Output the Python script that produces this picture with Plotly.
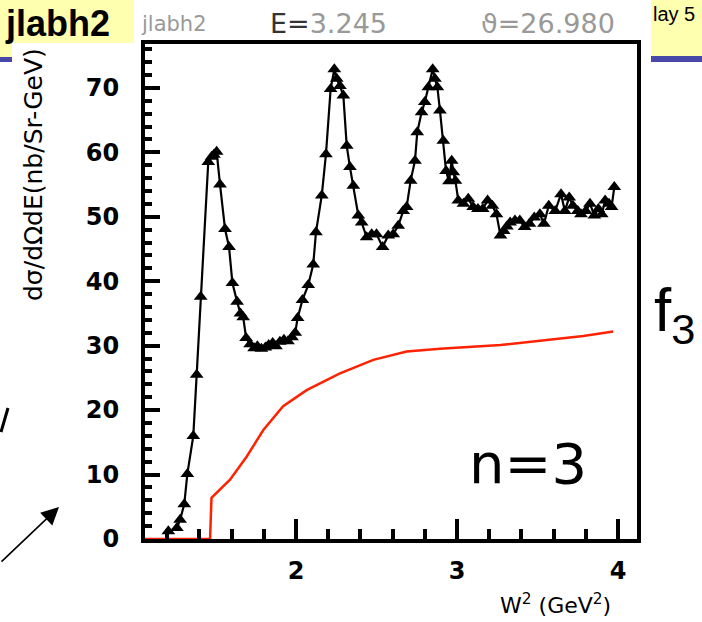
import plotly.graph_objects as go

# ---------------- data ----------------
w2_data = [1.207, 1.26, 1.28, 1.306, 1.325, 1.362, 1.383, 1.408, 1.455, 1.476, 1.49, 1.507,
           1.528, 1.559, 1.584, 1.605, 1.634, 1.655, 1.672, 1.69, 1.715, 1.74, 1.76, 1.785,
           1.81, 1.83, 1.855, 1.875, 1.90, 1.925, 1.95, 1.975, 1.995, 2.01, 2.04, 2.076,
           2.107, 2.124, 2.16, 2.186, 2.215, 2.238, 2.253, 2.273, 2.294, 2.315, 2.335, 2.356,
           2.387, 2.408, 2.439, 2.47, 2.5, 2.538, 2.573, 2.604, 2.635, 2.666, 2.687, 2.712,
           2.739, 2.753, 2.78, 2.80, 2.822, 2.849, 2.863, 2.878, 2.894, 2.915, 2.932, 2.95,
           2.967, 2.977, 2.99, 3.008, 3.04, 3.07, 3.10, 3.13, 3.16, 3.19, 3.22, 3.245,
           3.27, 3.29, 3.31, 3.33, 3.36, 3.39, 3.42, 3.45, 3.48, 3.515, 3.54, 3.57,
           3.61, 3.646, 3.67, 3.697, 3.72, 3.75, 3.77, 3.80, 3.826, 3.853, 3.878, 3.899,
           3.92, 3.944, 3.96, 3.977]
xsec_data = [1.2, 1.7, 3.0, 5.4, 10.1, 16.0, 25.5, 37.6, 58.5, 59.3, 59.6, 60.1,
             55.0, 48.1, 45.3, 39.7, 36.8, 35.0, 34.4, 31.2, 30.2, 29.6, 29.9, 29.5,
             29.7, 30.1, 30.4, 29.9, 30.6, 30.9, 30.7, 31.3, 32.0, 34.3, 37.1, 39.4,
             42.6, 47.6, 53.3, 59.7, 69.8, 72.9, 71.4, 70.3, 68.8, 61.0, 57.7, 54.8,
             50.2, 49.1, 46.8, 47.3, 47.3, 45.3, 47.1, 47.3, 48.6, 50.9, 51.5, 55.6,
             58.7, 63.1, 66.2, 67.8, 70.1, 72.9, 71.4, 70.1, 66.5, 61.8, 57.1, 55.5,
             58.7, 56.9, 55.6, 52.5, 52.0, 52.8, 51.5, 51.2, 51.2, 52.5, 51.7, 50.4,
             47.1, 47.8, 48.5, 49.1, 49.4, 49.4, 48.4, 48.9, 49.9, 50.4, 48.9, 51.7,
             50.9, 53.5, 50.9, 53.0, 51.7, 50.9, 50.4, 50.9, 52.0, 50.2, 51.2, 50.4,
             52.5, 52.0, 51.5, 54.6]

w2_model = [1.062, 1.466, 1.475, 1.59, 1.694, 1.797, 1.92, 2.066, 2.273, 2.48, 2.687,
            2.894, 3.27, 3.58, 3.785, 3.97]
xsec_model = [0.0, 0.0, 6.4, 9.2, 12.8, 16.9, 20.6, 23.1, 25.7, 27.8, 29.1,
              29.5, 30.1, 30.9, 31.5, 32.2]

x_tickvals = [2, 3, 4]
y_tickvals = [0, 10, 20, 30, 40, 50, 60, 70]

# ---------------- layout helpers (pixel -> paper) ----------------
W, H = 702, 622
L, R, T, B = 145, 637, 44, 539


def px(x):
    return (x - L) / (R - L)


def py(y):
    return (B - y) / (B - T)


fig = go.Figure()

fig.add_trace(go.Scatter(
    x=w2_model, y=xsec_model, mode="lines",
    line=dict(color="#ff2200", width=2.5), showlegend=False, hoverinfo="skip"))

fig.add_trace(go.Scatter(
    x=w2_data, y=xsec_data, mode="lines+markers",
    line=dict(color="black", width=2.2),
    marker=dict(symbol="triangle-up", size=12, color="black"),
    showlegend=False))

bold_font = dict(family="DejaVu Sans", size=24, color="black", weight="bold")

fig.update_layout(
    width=W, height=H,
    margin=dict(l=L, r=W - R, t=T, b=H - B, autoexpand=False),
    paper_bgcolor="white", plot_bgcolor="white",
    xaxis=dict(range=[1.062, 4.118], tickvals=x_tickvals, ticktext=[str(v) for v in x_tickvals],
               ticks="inside", ticklen=20, tickwidth=3.5, tickcolor="black",
               minor=dict(dtick=0.2, tick0=0, ticks="inside", ticklen=10, tickwidth=3.5, tickcolor="black"),
               showline=True, linewidth=4, linecolor="black", mirror=True,
               showgrid=False, zeroline=False, tickfont=bold_font, ticklabelstandoff=7),
    yaxis=dict(range=[0, 76.8], tickvals=y_tickvals, ticktext=[str(v) for v in y_tickvals],
               ticks="inside", ticklen=15, tickwidth=3.5, tickcolor="black",
               minor=dict(dtick=2, tick0=0, ticks="inside", ticklen=7, tickwidth=3.5, tickcolor="black"),
               showline=True, linewidth=4, linecolor="black", mirror=True,
               showgrid=False, zeroline=False, tickfont=bold_font, ticklabelstandoff=17),
)

shapes = []
# slide background fragments (yellow title band + blue rule)
yellow, blue = "#ffffb0", "#4848a8"
for (x0, x1, y0, y1, c) in [(0, 134, 0, 43, yellow), (0, 12, 43, 57, yellow), (0, 12, 57, 62, blue),
                            (651, 702, 0, 56, yellow), (651, 702, 56, 62, blue)]:
    shapes.append(dict(type="rect", xref="paper", yref="paper", x0=px(x0), x1=px(x1), y0=py(y1), y1=py(y0),
                       fillcolor=c, line=dict(width=0), layer="below"))
# fragment of a slide letter at the left edge
shapes.append(dict(type="line", xref="paper", yref="paper", x0=px(8), y0=py(408), x1=px(1), y1=py(432),
                   line=dict(color="black", width=3)))
fig.update_layout(shapes=shapes)

ann = []
ann.append(dict(xref="paper", yref="paper", x=px(3), y=py(24), text="<b>jlabh2</b>", showarrow=False,
                xanchor="left", yanchor="middle", font=dict(family="Liberation Sans", size=36, color="black")))
ann.append(dict(xref="paper", yref="paper", x=px(139), y=py(24), text="jlabh2", showarrow=False,
                xanchor="left", yanchor="middle", font=dict(family="DejaVu Sans", size=21, color="#999999")))
title_font = dict(family="DejaVu Sans", size=27, color="#999999")
ann.append(dict(xref="paper", yref="paper", x=px(268), y=py(24),
                text="<span style='color:#333'>E=</span>3.245", showarrow=False,
                xanchor="left", yanchor="middle", font=title_font))
ann.append(dict(xref="paper", yref="paper", x=px(617), y=py(24), text="ϑ=26.980", showarrow=False,
                xanchor="right", yanchor="middle", font=title_font))
ann.append(dict(xref="paper", yref="paper", x=px(651), y=py(14), text="lay 5", showarrow=False,
                xanchor="left", yanchor="middle", font=dict(family="Liberation Sans", size=20, color="black")))
ann.append(dict(xref="paper", yref="paper", x=px(33), y=py(175), text="dσ/dΩdE(nb/Sr-GeV)", showarrow=False,
                textangle=-90, xanchor="center", yanchor="middle",
                font=dict(family="DejaVu Sans", size=25, color="black")))
ann.append(dict(xref="paper", yref="paper", x=px(613), y=py(604), text="W<sup>2</sup> (GeV<sup>2</sup>)",
                showarrow=False, xanchor="right", yanchor="middle",
                font=dict(family="DejaVu Sans", size=22, color="black")))
ann.append(dict(xref="paper", yref="paper", x=px(528), y=py(463), text="n=3", showarrow=False,
                xanchor="center", yanchor="middle", font=dict(family="DejaVu Sans", size=56, color="black")))
ann.append(dict(xref="paper", yref="paper", x=px(652), y=py(314), text="f<sub>3</sub>", showarrow=False,
                xanchor="left", yanchor="middle", font=dict(family="Liberation Sans", size=62, color="black")))
# arrow at bottom-left
ann.append(dict(xref="paper", yref="paper", x=px(59), y=py(507), ax=-62, ay=56, text="",
                showarrow=True, arrowhead=2, arrowsize=2.2, arrowwidth=1.6, arrowcolor="black"))
fig.update_layout(annotations=ann)

fig.write_html("out.html", config={"displayModeBar": False},
               post_script="document.body.style.margin='0';document.body.style.overflow='hidden';")
